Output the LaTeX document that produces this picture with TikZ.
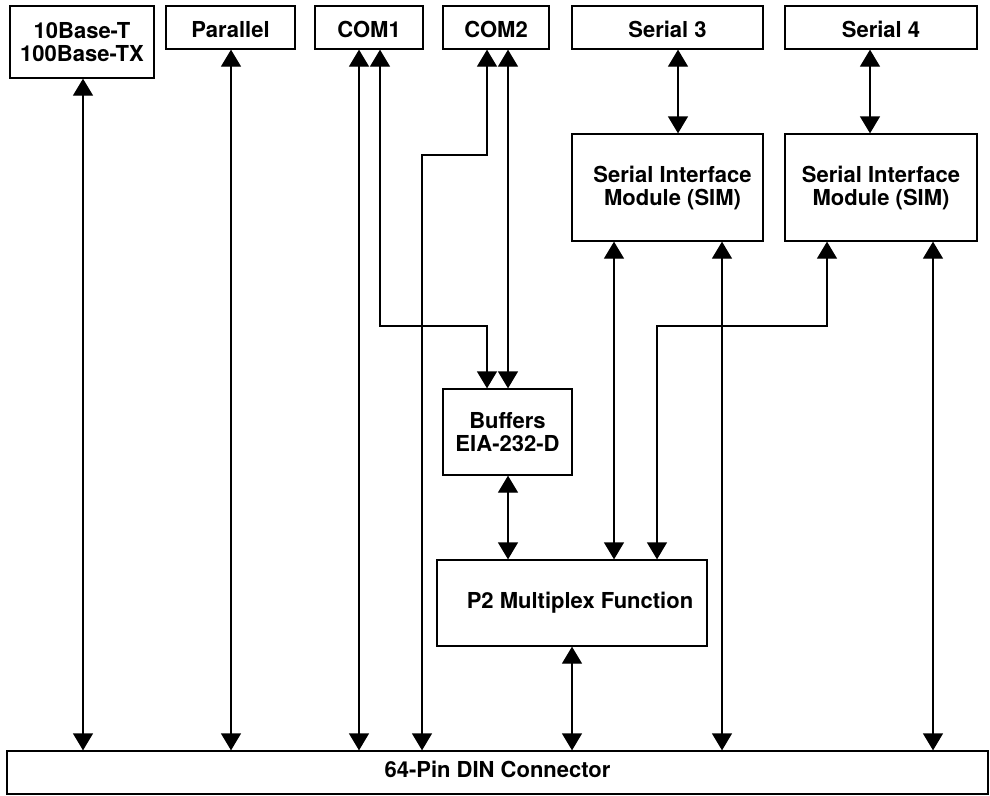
\documentclass[tikz,border=0pt]{standalone}
\usepackage{fontspec}
\setmainfont{TeX Gyre Heros}
\usetikzlibrary{arrows.meta,calc}
\tikzset{
  lbl/.style={font=\fontsize{22}{23}\selectfont\bfseries,align=center},
  blk/.style={draw,line width=1.3pt,rectangle,inner sep=0pt,lbl},
  top/.style={blk,minimum height=43pt,text height=19pt,text depth=0pt},
  dbl/.style={line width=1.3pt,{Triangle[length=17pt,width=20pt]}-{Triangle[length=17pt,width=20pt]}},
}
\begin{document}
\begin{tikzpicture}[x=1pt,y=-1pt]
\useasboundingbox (0,0) rectangle (990,795);
% boxes
\node[blk,minimum width=144pt,minimum height=72pt] (eth) at (82,42) {10Base-T\\100Base-TX};
\node[top,minimum width=129pt] (par) at (230.5,27.5) {Parallel};
\node[top,minimum width=108pt] (com1) at (369,27.5) {COM1};
\node[top,minimum width=106pt] (com2) at (496,27.5) {COM2};
\node[top,minimum width=191pt] (ser3) at (667.5,27.5) {Serial 3};
\node[top,minimum width=192pt] (ser4) at (881,27.5) {Serial 4};
\node[blk,minimum width=191pt,minimum height=107pt] (sim1) at (667.5,187.5) {};
\node[lbl] (sim1t) at ($(sim1.center)+(5,1)$) {Serial Interface\\Module (SIM)};
\node[blk,minimum width=192pt,minimum height=107pt] (sim2) at (881,187.5) {};
\node[lbl] (sim2t) at ($(sim2.center)+(0,1)$) {Serial Interface\\Module (SIM)};
\node[blk,minimum width=129pt,minimum height=86pt] (buf) at (507.5,432) {Buffers\\EIA-232-D};
\node[blk,minimum width=270pt,minimum height=86pt] (p2) at (572,603) {};
\node[lbl] (p2t) at ($(p2.center)+(8,0)$) {P2 Multiplex Function};
\node[blk,minimum width=981pt,minimum height=43pt,text height=16pt,text depth=6pt] (din) at (497.5,772.5) {64-Pin DIN Connector};
% channel coordinates
\coordinate (xa) at (83,0);
\coordinate (xb) at (231,0);
\coordinate (xc) at (359,0);
\coordinate (xd) at (380,0);
\coordinate (xe) at (487,0);
\coordinate (xf) at (508,0);
\coordinate (xg) at (422,0);
\coordinate (xh) at (614,0);
\coordinate (xi) at (722,0);
\coordinate (xj) at (827,0);
\coordinate (xk) at (657,0);
\coordinate (xl) at (933,0);
\coordinate (xm) at (572,0);
\coordinate (xn) at (678,0);
\coordinate (xo) at (870,0);
% connectors
\draw[dbl] (eth.south -| xa) -- (din.north -| xa);
\draw[dbl] (par.south -| xb) -- (din.north -| xb);
\draw[dbl] (com1.south -| xc) -- (din.north -| xc);
\draw[dbl] (com1.south -| xd) -- (xd |- 0,326) -- (xe |- 0,326) -- (buf.north -| xe);
\draw[dbl] (com2.south -| xe) -- (xe |- 0,155) -- (xg |- 0,155) -- (din.north -| xg);
\draw[dbl] (com2.south -| xf) -- (buf.north -| xf);
\draw[dbl] (buf.south -| xf) -- (p2.north -| xf);
\draw[dbl] (ser3.south -| xn) -- (sim1.north -| xn);
\draw[dbl] (ser4.south -| xo) -- (sim2.north -| xo);
\draw[dbl] (sim1.south -| xh) -- (p2.north -| xh);
\draw[dbl] (sim1.south -| xi) -- (din.north -| xi);
\draw[dbl] (sim2.south -| xj) -- (xj |- 0,326) -- (xk |- 0,326) -- (p2.north -| xk);
\draw[dbl] (sim2.south -| xl) -- (din.north -| xl);
\draw[dbl] (p2.south -| xm) -- (din.north -| xm);
\end{tikzpicture}
\end{document}
